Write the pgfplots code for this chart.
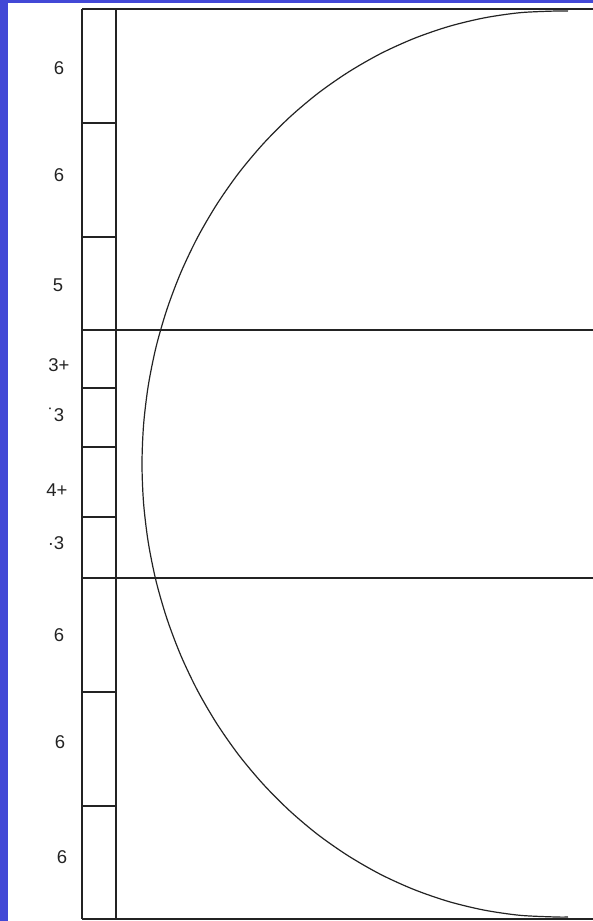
\documentclass[border=0pt]{standalone}
\usepackage{pgfplots}
\pgfplotsset{compat=1.18}
\usepackage{fontspec}
\setmainfont{Liberation Sans}
\definecolor{bgblue}{RGB}{66,72,214}
\definecolor{ln}{RGB}{35,35,35}
\begin{document}
\begin{tikzpicture}
\begin{axis}[scale only axis, width=593pt, height=921pt,
  xmin=0, xmax=593, ymin=0, ymax=921, y dir=reverse,
  hide axis, clip=true]
% background
\addplot[fill=bgblue, draw=none] coordinates {(0,0) (593,0) (593,921) (0,921)};
\addplot[fill=white, draw=none] coordinates {(8,2.5) (593,2.5) (593,921) (8,921)};
% frame
\addplot[ln, line width=1.3pt] coordinates {(82,9) (592.5,9)};
\addplot[ln, line width=1.3pt] coordinates {(82,919) (592.5,919)};
\addplot[ln, line width=1.3pt] coordinates {(82,9) (82,919)};
\addplot[ln, line width=1.3pt] coordinates {(116,9) (116,919)};
\addplot[ln, line width=1.3pt] coordinates {(82,330) (592.5,330)};
\addplot[ln, line width=1.3pt] coordinates {(82,578) (592.5,578)};
% column divisions
\addplot[ln, line width=1.3pt] coordinates {(82,123) (116,123)};
\addplot[ln, line width=1.3pt] coordinates {(82,237) (116,237)};
\addplot[ln, line width=1.3pt] coordinates {(82,388) (116,388)};
\addplot[ln, line width=1.3pt] coordinates {(82,447) (116,447)};
\addplot[ln, line width=1.3pt] coordinates {(82,517) (116,517)};
\addplot[ln, line width=1.3pt] coordinates {(82,692) (116,692)};
\addplot[ln, line width=1.3pt] coordinates {(82,806) (116,806)};
% arc
\addplot[ln, line width=1.2pt, smooth] coordinates {
(568,11) (556,11) (519.9,12.7) (484.1,17.9) (448.9,26.4) (414.4,38.3) (381.0,53.4)
(349.0,71.7) (318.5,92.9) (289.9,117.0) (263.3,143.7) (238.9,172.8)
(216.9,204.2) (197.5,237.5) (180.8,272.6) (167.0,309.1) (156.1,346.8)
(148.3,385.4) (143.6,424.5) (142,464) (143.6,503.5) (148.3,542.6)
(156.1,581.2) (167.0,618.9) (180.8,655.4) (197.5,690.5) (216.9,723.8)
(238.9,755.2) (263.3,784.3) (289.9,811.0) (318.5,835.1) (349.0,856.3)
(381.0,874.6) (414.4,889.7) (448.9,901.6) (484.1,910.1) (519.9,915.3)
(556,917) (568,917)};
% labels
\tikzset{lab/.style={font=\fontsize{18.5}{20}\selectfont, text=ln, inner sep=0pt}}
\node[lab] at (axis cs:59,68) {6};
\node[lab] at (axis cs:59,175) {6};
\node[lab] at (axis cs:58,285) {5};
\node[lab] at (axis cs:59,365) {3+};
\node[lab] at (axis cs:56,415) {˙3};
\node[lab] at (axis cs:57,490) {4+};
\node[lab] at (axis cs:56,543) {·3};
\node[lab] at (axis cs:59,635) {6};
\node[lab] at (axis cs:60,742) {6};
\node[lab] at (axis cs:62,857) {6};
\end{axis}
\end{tikzpicture}
\end{document}
